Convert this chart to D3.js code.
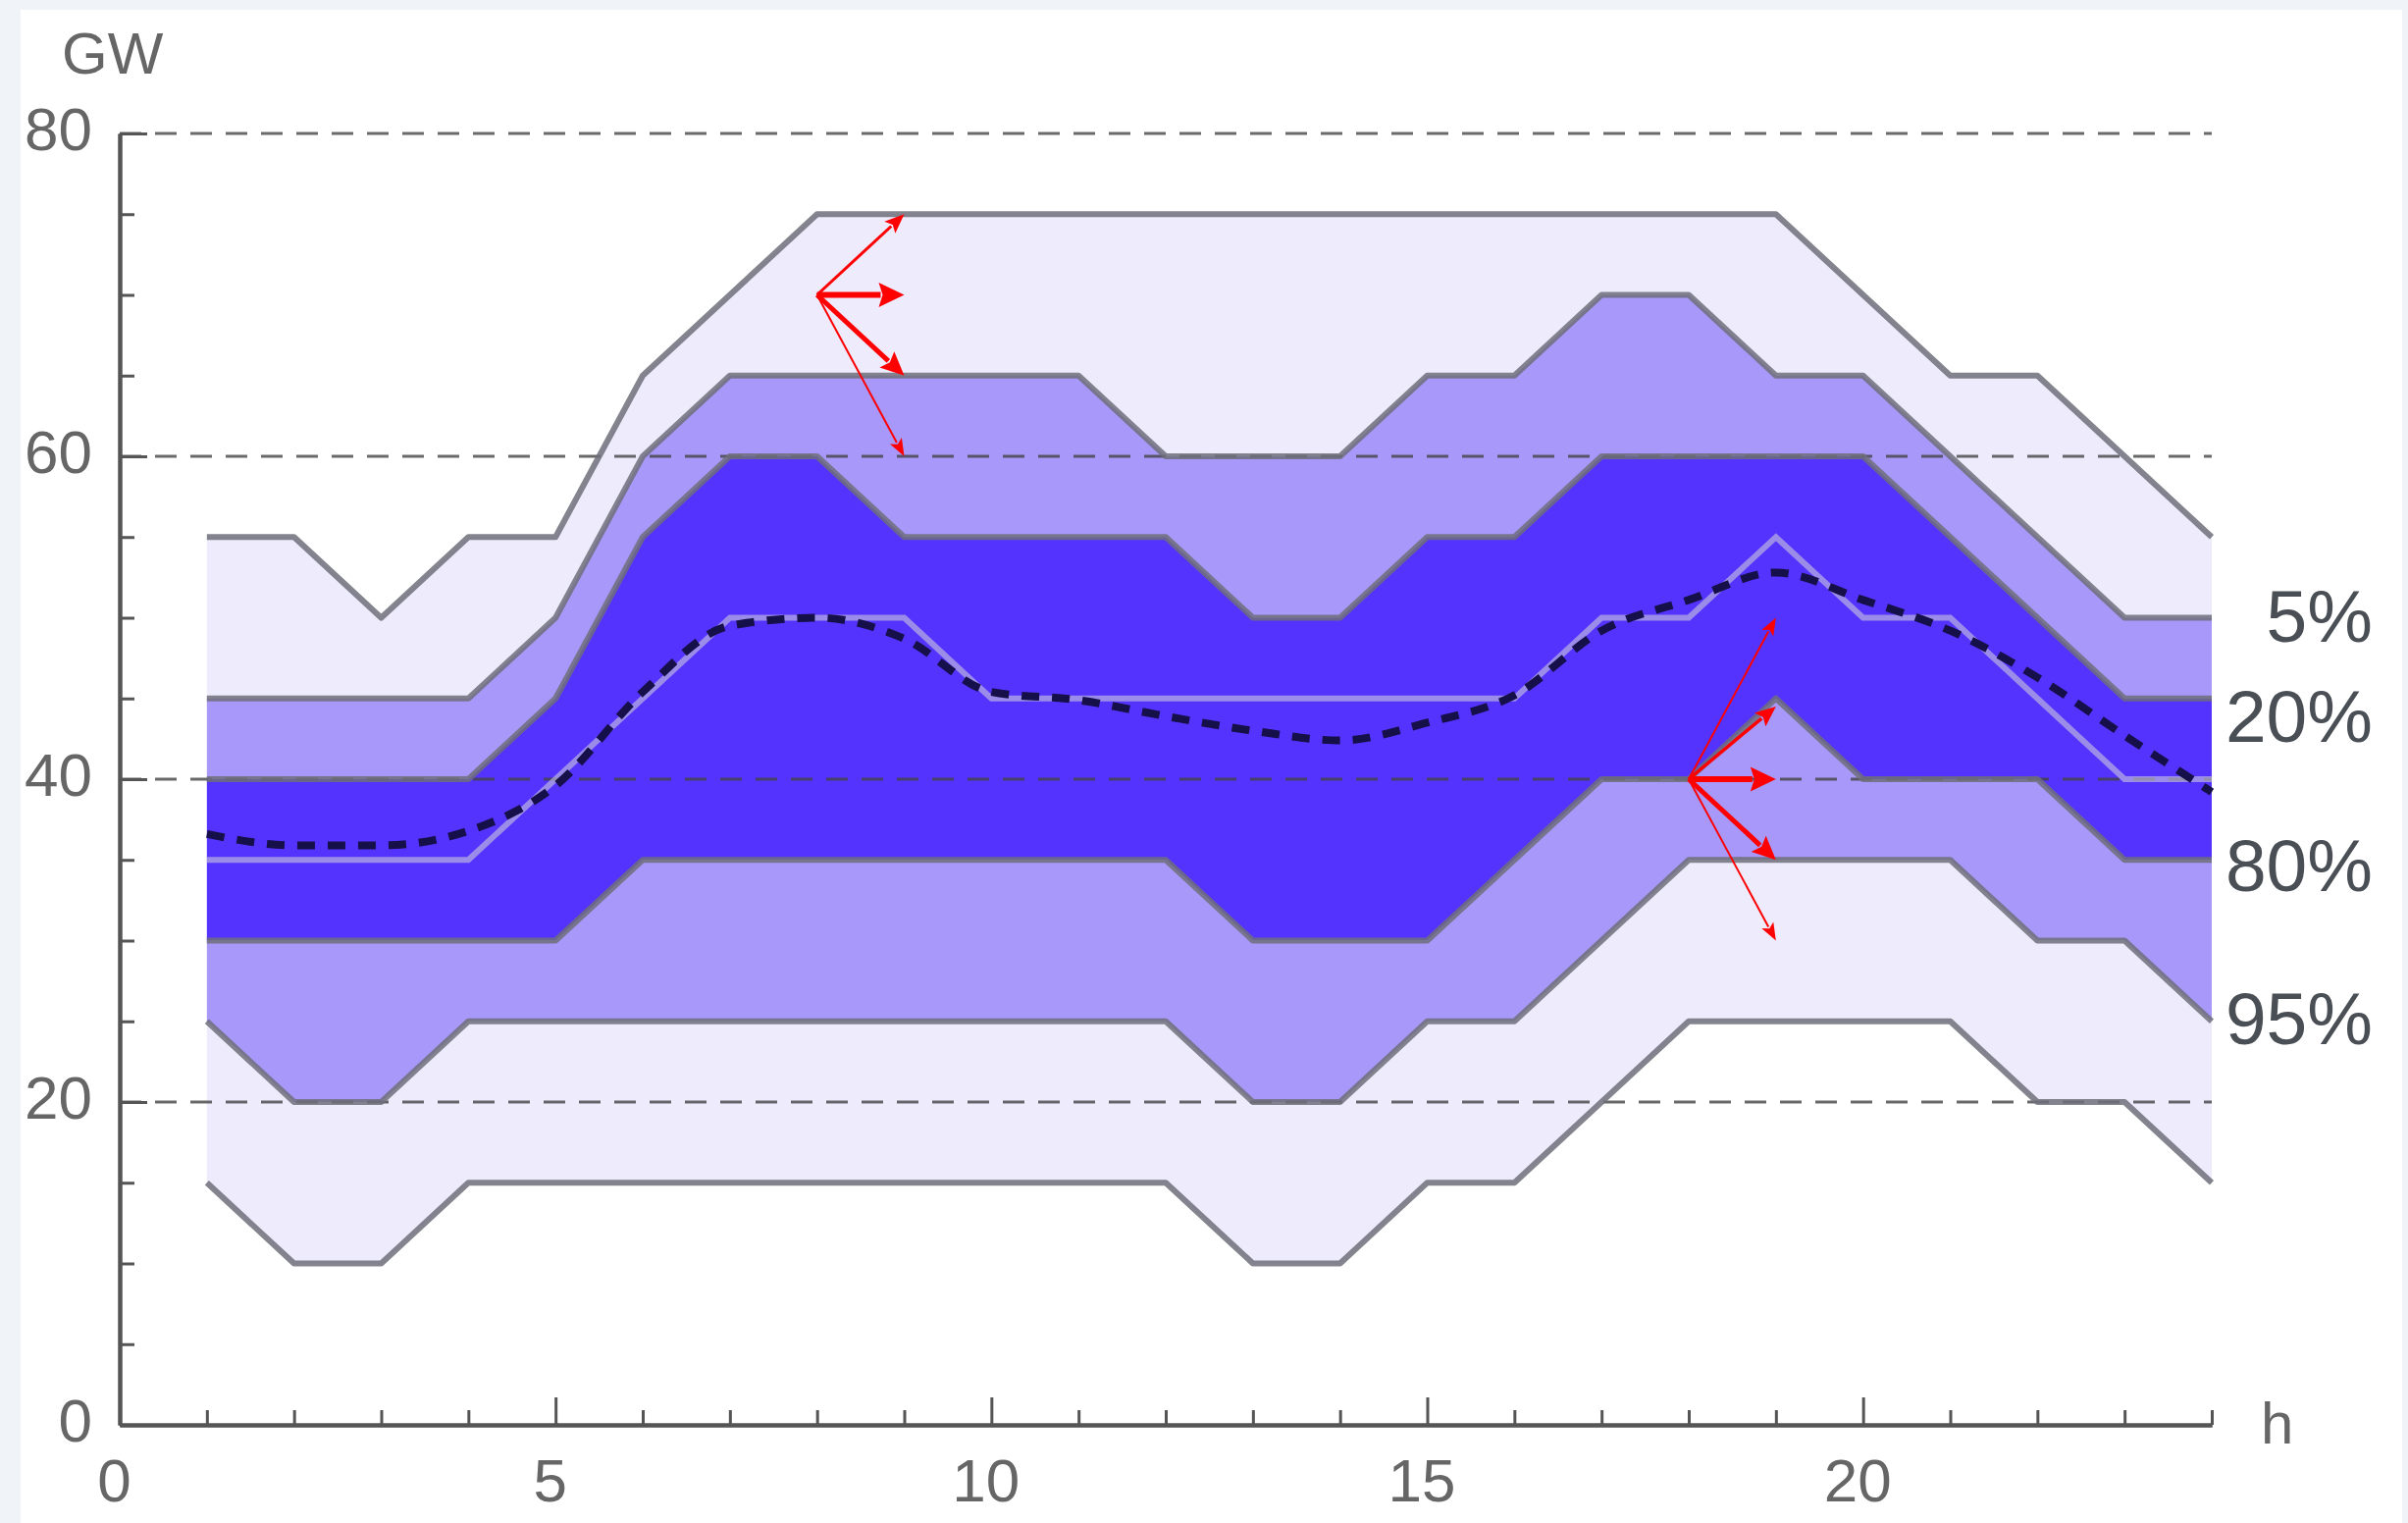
<!DOCTYPE html>
<html>
<head>
<meta charset="utf-8">
<script src="https://cdnjs.cloudflare.com/ajax/libs/d3/7.8.5/d3.min.js"></script>
<style>
  body { margin: 0; background: #f0f4f8; }
  svg { display: block; }
</style>
</head>
<body>
<svg id="chart" width="2454" height="1552"></svg>
<script>
// hour of day
var hours   = [1,2,3,4,5,6,7,8,9,10,11,12,13,14,15,16,17,18,19,20,21,22,23,24];
// band edges (GW), from top to bottom
var upper95 = [55,55,50,55,55,65,70,75,75,75,75,75,75,75,75,75,75,75,75,70,65,65,60,55];
var upper80 = [45,45,45,45,50,60,65,65,65,65,65,60,60,60,65,65,70,70,65,65,60,55,50,50];
var upper20 = [40,40,40,40,45,55,60,60,55,55,55,55,50,50,55,55,60,60,60,60,55,50,45,45];
var median  = [35,35,35,35,40,45,50,50,50,45,45,45,45,45,45,45,50,50,55,50,50,45,40,40];
var lower20 = [30,30,30,30,30,35,35,35,35,35,35,35,30,30,30,35,40,40,45,40,40,40,35,35];
var lower80 = [25,20,20,25,25,25,25,25,25,25,25,25,20,20,25,25,30,35,35,35,35,30,30,25];
var lower95 = [15,10,10,15,15,15,15,15,15,15,15,15,10,10,15,15,20,25,25,25,25,20,20,15];
// expected load (dashed curve)
var expected = [36.6,35.9,35.9,36.8,39.6,45.4,49.5,50,48.7,45.4,44.9,43.9,43,42.4,43.5,45.2,49.2,51.1,52.8,51.1,49.2,46.3,42.7,39.2];

var xTicks  = [0,5,10,15,20];
var yTicks  = [0,20,40,60,80];
var gridVals = [20,40,60,80];
var bandLabels = ["5%","20%","80%","95%"];
var bandLabelY = [48.5,42.3,33.1,23.6];   // GW level of each label baseline

// red arrows: origin and targets
var arrowFrom1 = [8,70];
var arrowTo1   = [[9,75],[9,70],[9,65],[9,60]];
var arrowFrom2 = [18,40];
var arrowTo2   = [[19,50],[19,44.5],[19,40],[19,35],[19,30]];
var arrowW1 = [3,6,5,2];
var arrowW2 = [2,3.5,6,5,2];

var svg = d3.select("#chart");

svg.append("rect")
   .attr("x", 21).attr("y", 10)
   .attr("width", 2427).attr("height", 1542)
   .attr("fill", "#ffffff");

var x = d3.scaleLinear().domain([0,24]).range([122,2254]);
var y = d3.scaleLinear().domain([0,80]).range([1452,136]);

var rows = hours.map(function(h, i) {
    return {h: h, u95: upper95[i], u80: upper80[i], u20: upper20[i], med: median[i],
            l20: lower20[i], l80: lower80[i], l95: lower95[i], ex: expected[i]};
});

function band(k0, k1) {
    return d3.area()
        .x(function(d){ return x(d.h); })
        .y0(function(d){ return y(d[k0]); })
        .y1(function(d){ return y(d[k1]); });
}

var light = "#eeebfd", mid = "#a898fa", dark = "#5533ff";

// fills
var bands = [["u80","u95",light],["u20","u80",mid],["l20","u20",dark],["l80","l20",mid],["l95","l80",light]];
bands.forEach(function(b) {
    svg.append("path")
       .datum(rows)
       .attr("fill", b[2])
       .attr("d", band(b[0], b[1]));
});

// dashed grid
svg.selectAll(".grid").data(gridVals).enter()
   .append("line")
   .attr("class", "grid")
   .attr("x1", x(0)).attr("x2", x(24))
   .attr("y1", function(d){ return y(d); })
   .attr("y2", function(d){ return y(d); })
   .attr("stroke", "#444")
   .attr("stroke-width", 3)
   .attr("stroke-opacity", 0.8)
   .style("stroke-dasharray", "22,14");

// band edge lines
["u95","u80","u20","l20","l80","l95"].forEach(function(k) {
    svg.append("path")
       .datum(rows)
       .attr("fill", "none")
       .attr("stroke", "#6e6e7a")
       .attr("stroke-opacity", 0.85)
       .attr("stroke-width", 6)
       .attr("stroke-linejoin", "round")
       .attr("d", d3.line().x(function(d){ return x(d.h); }).y(function(d){ return y(d[k]); }));
});

svg.append("path")
   .datum(rows)
   .attr("fill", "none")
   .attr("stroke", "#c8c8d8")
   .attr("stroke-opacity", 0.6)
   .attr("stroke-width", 6)
   .attr("d", d3.line().x(function(d){ return x(d.h); }).y(function(d){ return y(d.med); }));

// expected curve
svg.append("path")
   .datum(rows)
   .attr("fill", "none")
   .attr("stroke", "#15104a")
   .attr("stroke-width", 8)
   .style("stroke-dasharray", "18,13")
   .attr("d", d3.line().curve(d3.curveMonotoneX)
        .x(function(d){ return x(d.h); })
        .y(function(d){ return y(d.ex); }));

// axes
var minorX = hours.filter(function(h){ return xTicks.indexOf(h) < 0; });
var minorY = [5,10,15,25,30,35,45,50,55,65,70,75];

var gx = svg.append("g").attr("transform", "translate(0," + y(0) + ")");
gx.append("g").call(d3.axisBottom(x).tickValues(minorX).tickSize(-15).tickSizeOuter(0).tickFormat(""));
gx.append("g").call(d3.axisBottom(x).tickValues(xTicks).tickSize(-28).tickSizeOuter(0).tickPadding(34));

var gy = svg.append("g").attr("transform", "translate(" + x(0) + ",0)");
gy.append("g").call(d3.axisLeft(y).tickValues(minorY).tickSize(-15).tickSizeOuter(0).tickFormat(""));
gy.append("g").call(d3.axisLeft(y).tickValues(yTicks).tickSize(-28).tickSizeOuter(0).tickPadding(28));

svg.selectAll(".domain").attr("stroke", "#555").attr("stroke-width", 4);
svg.selectAll(".tick line").attr("stroke", "#555").attr("stroke-width", 3);
svg.selectAll(".tick text")
   .attr("fill", "#666")
   .style("font-family", "Liberation Sans, Arial, sans-serif")
   .style("font-size", "62px");
gx.selectAll(".tick text").attr("dx", -6);
gy.selectAll(".tick text").attr("dy", "0.26em");

svg.append("text")
   .attr("x", 63).attr("y", 75)
   .attr("fill", "#666")
   .style("font-family", "Liberation Sans, Arial, sans-serif")
   .style("font-size", "60px")
   .text("GW");

svg.append("text")
   .attr("x", 2304).attr("y", 1471)
   .attr("fill", "#666")
   .style("font-family", "Liberation Sans, Arial, sans-serif")
   .style("font-size", "60px")
   .text("h");

// percentage labels
svg.selectAll(".plab").data(bandLabels).enter()
   .append("text")
   .attr("class", "plab")
   .attr("x", 2418)
   .attr("y", function(d, i){ return y(bandLabelY[i]); })
   .attr("text-anchor", "end")
   .attr("fill", "#4a4f55")
   .style("font-family", "Liberation Sans, Arial, sans-serif")
   .style("font-size", "75px")
   .text(function(d){ return d; });

// red arrows
function drawArrows(from, targets, widths) {
    var x0 = x(from[0]), y0 = y(from[1]);
    targets.forEach(function(t, i) {
        var x1 = x(t[0]), y1 = y(t[1]), w = widths[i];
        var dx = x1 - x0, dy = y1 - y0, len = Math.sqrt(dx*dx + dy*dy);
        var ux = dx/len, uy = dy/len;
        var hl = 14 + 2*w, hw = 4 + 1.4*w;
        var bx = x1 - ux*hl, by = y1 - uy*hl;
        svg.append("line")
           .attr("x1", x0).attr("y1", y0)
           .attr("x2", bx + ux*2).attr("y2", by + uy*2)
           .attr("stroke", "#ff0000")
           .attr("stroke-width", w);
        svg.append("path")
           .attr("fill", "#ff0000")
           .attr("d", "M" + x1 + "," + y1 +
                      "L" + (bx - uy*hw) + "," + (by + ux*hw) +
                      "L" + (bx + ux*4) + "," + (by + uy*4) +
                      "L" + (bx + uy*hw) + "," + (by - ux*hw) + "Z");
    });
}
drawArrows(arrowFrom1, arrowTo1, arrowW1);
drawArrows(arrowFrom2, arrowTo2, arrowW2);
</script>
</body>
</html>
